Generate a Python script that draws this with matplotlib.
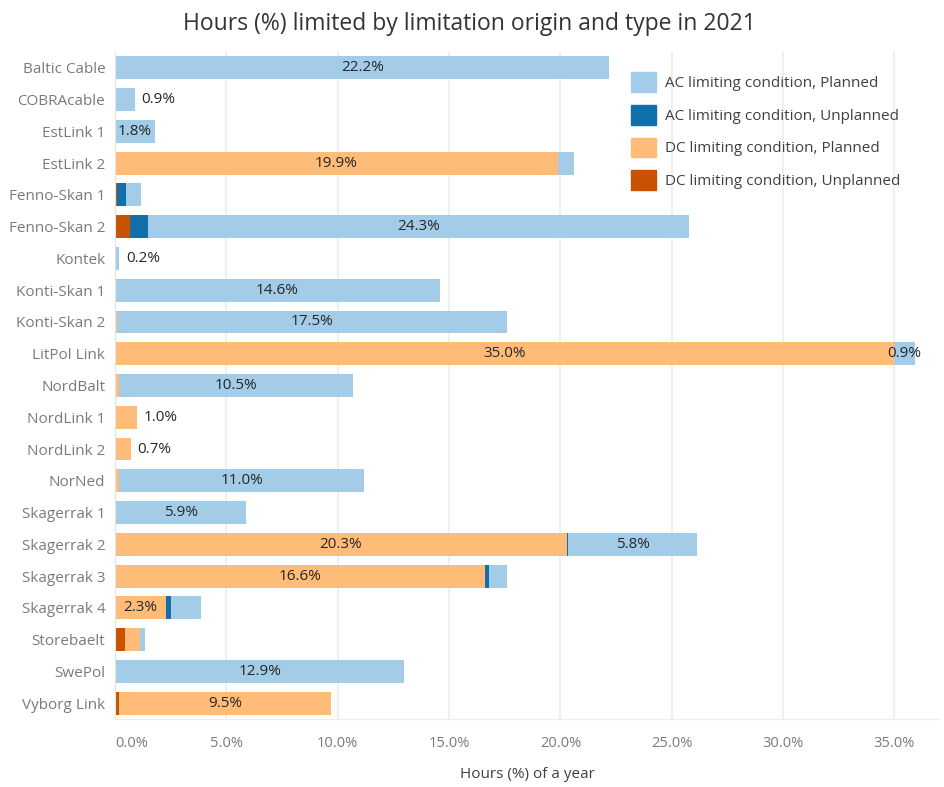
import numpy as np
import matplotlib.pyplot as plt
from matplotlib.patches import Patch

# interconnectors, top to bottom
links = [
    "Baltic Cable", "COBRAcable", "EstLink 1", "EstLink 2", "Fenno-Skan 1",
    "Fenno-Skan 2", "Kontek", "Konti-Skan 1", "Konti-Skan 2", "LitPol Link",
    "NordBalt", "NordLink 1", "NordLink 2", "NorNed", "Skagerrak 1",
    "Skagerrak 2", "Skagerrak 3", "Skagerrak 4", "Storebaelt", "SwePol",
    "Vyborg Link",
]

# hours (%) per category, stacked in this order
dc_unplanned = [0, 0, 0, 0, 0.1, 0.67, 0, 0, 0, 0, 0, 0, 0, 0, 0, 0, 0, 0, 0.45, 0, 0.18]
dc_planned = [0, 0, 0, 19.9, 0, 0, 0, 0, 0.1, 35.0, 0.2, 1.0, 0.7, 0.2, 0, 20.3, 16.6, 2.3, 0.67, 0.06, 9.5]
ac_unplanned = [0, 0, 0, 0, 0.38, 0.8, 0, 0, 0, 0, 0, 0, 0, 0, 0, 0.05, 0.18, 0.22, 0, 0, 0]
ac_planned = [22.2, 0.9, 1.8, 0.7, 0.67, 24.3, 0.2, 14.6, 17.5, 0.9, 10.5, 0, 0, 11.0, 5.9, 5.8, 0.8, 1.35, 0.22, 12.9, 0]

# which segments carry a value label (link index, series key)
labelled = {
    (0, "acp"), (1, "acp"), (2, "acp"), (3, "dcp"), (5, "acp"), (6, "acp"),
    (7, "acp"), (8, "acp"), (9, "dcp"), (9, "acp"), (10, "acp"), (11, "dcp"),
    (12, "dcp"), (13, "acp"), (14, "acp"), (15, "dcp"), (15, "acp"),
    (16, "dcp"), (17, "dcp"), (19, "acp"), (20, "dcp"),
}

series = [
    ("dcu", dc_unplanned, "#c85200", "DC limiting condition, Unplanned"),
    ("dcp", dc_planned, "#ffbc79", "DC limiting condition, Planned"),
    ("acu", ac_unplanned, "#1170aa", "AC limiting condition, Unplanned"),
    ("acp", ac_planned, "#a3cce9", "AC limiting condition, Planned"),
]

plt.rcParams['font.family'] = ['Open Sans', 'DejaVu Sans']

fig = plt.figure(figsize=(9.45, 7.87), dpi=100)
ax = fig.add_axes([115 / 945, 68 / 787, 824 / 945, 667 / 787])

y = np.arange(len(links))
left = np.zeros(len(links))
totals = np.sum([s[1] for s in series], axis=0)

for key, vals, color, name in series:
    vals = np.array(vals)
    ax.barh(y, vals, left=left, height=0.72, color=color, zorder=2)
    for i, v in enumerate(vals):
        if (i, key) not in labelled:
            continue
        txt = f"{v:.1f}%"
        # short single-segment bars get their label outside
        if v == totals[i] and v < 1.2:
            ax.text(left[i] + v + 0.3, i, txt, va="center", ha="left",
                    fontsize=11, color="#262626")
        else:
            ax.text(left[i] + v / 2, i, txt, va="center", ha="center",
                    fontsize=11, color="#262626")
    left += vals

ax.set_xlim(0, 37)
ax.set_ylim(len(links) - 0.5, -0.5)
ax.set_yticks(y)
ax.set_yticklabels(links, fontsize=11, color="#7a7a7a")
ticks = np.arange(0, 36, 5)
ax.set_xticks(ticks)
ax.set_xticklabels([f"{t:.1f}%" for t in ticks], fontsize=10.5, color="#7a7a7a")
ax.get_xticklabels()[0].set_horizontalalignment("left")
ax.tick_params(axis="both", length=0)
ax.tick_params(axis="y", pad=7)
ax.tick_params(axis="x", pad=12)
ax.grid(axis="x", color="#ececec", linewidth=1.2, zorder=0)
for side in ("top", "right"):
    ax.spines[side].set_visible(False)
ax.spines["left"].set_color("#e3e3e3")
ax.spines["bottom"].set_color("#ececec")

ax.set_xlabel("Hours (%) of a year", fontsize=11, color="#404040", labelpad=12)
fig.suptitle("Hours (%) limited by limitation origin and type in 2021",
             fontsize=16.5, color="#333333", x=0.497, y=0.985)

handles = [Patch(color=c, label=n) for _, _, c, n in reversed(series)]
ax.legend(handles=handles, loc="upper left", bbox_to_anchor=(0.61, 0.99),
          frameon=False, fontsize=11, labelcolor="#404040",
          handlelength=1.6, handleheight=1.6, labelspacing=0.85, handletextpad=0.6)

fig.savefig("out.png", dpi=100)
